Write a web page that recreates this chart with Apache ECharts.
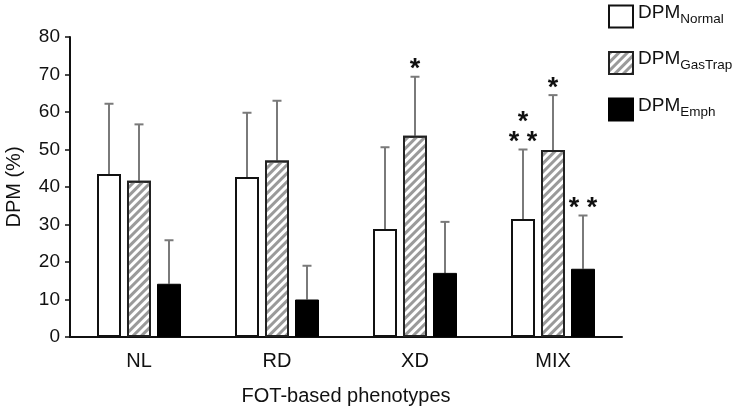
<!DOCTYPE html>
<html>
<head>
<meta charset="utf-8">
<script src="https://cdn.jsdelivr.net/npm/echarts@6/dist/echarts.min.js"></script>
<style>html,body{margin:0;padding:0;background:#fff;}#c{width:735px;height:409px;}</style>
</head>
<body>
<div id="c"></div>
<script>
var categories = ['NL', 'RD', 'XD', 'MIX'];
var normalMean = [43.5, 42.7, 28.8, 31.5];
var normalSD   = [18.7, 17.1, 21.8, 18.5];
var gasMean    = [41.7, 47.1, 53.7, 49.9];
var gasSD      = [15.0, 15.9, 15.7, 14.6];
var emphMean   = [14.2, 10.0, 17.1, 18.2];
var emphSD     = [11.6,  9.0, 13.6, 14.2];
var normalSig  = ['', '', '', '*\n* *'];
var gasSig     = ['', '', '*', '*'];
var emphSig    = ['', '', '', '* *'];
var yTicks = { min: 0, max: 80, interval: 10 };

var FONT = 'Liberation Sans';
var BAR_W = 24, BAR_STEP = 30;

function errSeries(mean, sd, sig, offIdx) {
  var data = mean.map(function (m, i) { return [i, m, m + sd[i], sig[i]]; });
  return {
    type: 'custom',
    z: 1,
    silent: true,
    data: data,
    encode: { x: 0, y: [1, 2] },
    renderItem: function (params, api) {
      var i = api.value(0);
      var c0 = api.coord([i, api.value(1)]);
      var c1 = api.coord([i, api.value(2)]);
      var x = c0[0] + offIdx * BAR_STEP;
      var children = [
        { type: 'line', shape: { x1: x, y1: c0[1], x2: x, y2: c1[1] }, style: { stroke: '#7a7a7a', lineWidth: 2 } },
        { type: 'line', shape: { x1: x - 4.5, y1: c1[1], x2: x + 4.5, y2: c1[1] }, style: { stroke: '#7a7a7a', lineWidth: 2 } }
      ];
      var s = data[params.dataIndex][3];
      if (s) {
        children.push({
          type: 'text',
          style: {
            text: s, x: x, y: c1[1] + 3,
            textAlign: 'center', textVerticalAlign: 'bottom',
            font: 'bold 27px "' + FONT + '"', fill: '#111', lineHeight: 20
          }
        });
      }
      return { type: 'group', children: children };
    }
  };
}

var chart = echarts.init(document.getElementById('c'), null, { renderer: 'canvas' });
var legendRich = {
  a: { fontSize: 19, fontFamily: FONT, color: '#111', lineHeight: 19, verticalAlign: 'bottom', padding: [0, 0, 4, 0] },
  b: { fontSize: 13.5, fontFamily: FONT, color: '#111', lineHeight: 14, verticalAlign: 'bottom' }
};
var subs = { 'DPM_Normal': 'Normal', 'DPM_GasTrap': 'GasTrap', 'DPM_Emph': 'Emph' };

chart.setOption({
  animation: false,
  backgroundColor: '#fff',
  grid: { left: 70, right: 113, top: 37, bottom: 72, containLabel: false, outerBoundsMode: 'none' },
  legend: {
    orient: 'vertical',
    left: 603, top: -2,
    icon: 'rect',
    itemWidth: 24, itemHeight: 22, itemGap: 21,
    data: ['DPM_Normal', 'DPM_GasTrap', 'DPM_Emph'],
    formatter: function (n) { return '{a|DPM}{b|' + subs[n] + '}'; },
    textStyle: { rich: legendRich }
  },
  xAxis: {
    type: 'category',
    data: categories,
    axisLine: { lineStyle: { color: '#111', width: 2 } },
    axisTick: { show: false },
    axisLabel: { fontSize: 20, fontFamily: FONT, color: '#111', margin: 14 },
    name: 'FOT-based phenotypes',
    nameLocation: 'middle',
    nameGap: 49,
    nameTextStyle: { fontSize: 20, fontFamily: FONT, color: '#111' }
  },
  yAxis: {
    type: 'value',
    min: yTicks.min, max: yTicks.max, interval: yTicks.interval,
    axisLine: { show: true, lineStyle: { color: '#111', width: 2 } },
    axisTick: { show: true, length: 5, lineStyle: { color: '#111', width: 1.5 } },
    splitLine: { show: false },
    axisLabel: { fontSize: 19, fontFamily: FONT, color: '#111', margin: 10 },
    name: 'DPM (%)',
    nameLocation: 'middle',
    nameGap: 46,
    nameTextStyle: { fontSize: 20, fontFamily: FONT, color: '#111' }
  },
  series: [
    { name: 'DPM_Normal', type: 'bar', data: normalMean, barWidth: BAR_W, barGap: '25%', z: 2,
      itemStyle: { color: '#fff', borderColor: '#111', borderWidth: 2 } },
    { name: 'DPM_GasTrap', type: 'bar', data: gasMean, barWidth: BAR_W, barGap: '25%', z: 2,
      itemStyle: { color: '#fff', borderColor: '#222', borderWidth: 2,
        decal: { symbol: 'rect', symbolSize: 1, color: '#9a9a9a', dashArrayX: [1, 0], dashArrayY: [2.5, 2.5], rotation: -Math.PI / 4 } } },
    { name: 'DPM_Emph', type: 'bar', data: emphMean, barWidth: BAR_W, barGap: '25%', z: 2,
      itemStyle: { color: '#000', borderColor: '#000', borderWidth: 1 } },
    errSeries(normalMean, normalSD, normalSig, -1),
    errSeries(gasMean, gasSD, gasSig, 0),
    errSeries(emphMean, emphSD, emphSig, 1)
  ]
});
</script>
</body>
</html>
